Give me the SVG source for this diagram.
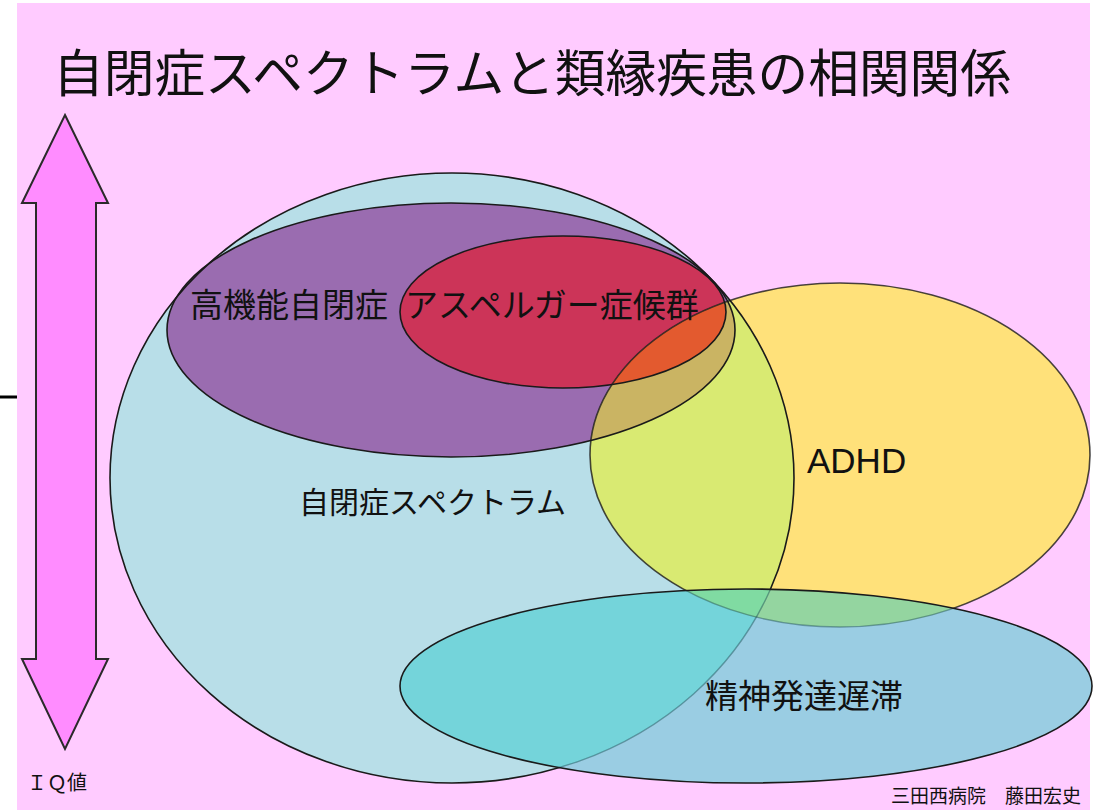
<svg xmlns="http://www.w3.org/2000/svg" width="1095" height="810" viewBox="0 0 1095 810">
<style>
text{font-family:"Noto Sans CJK JP","Noto Sans CJK SC",sans-serif;fill:#111}
.ol{fill:none;stroke:#1a1a1a;stroke-width:1.6}
.lbl{font-size:33px}
</style>
<defs>
<clipPath id="cE1"><ellipse cx="452" cy="478" rx="342" ry="305"/></clipPath>
<clipPath id="cE4"><ellipse cx="840" cy="455" rx="250" ry="172"/></clipPath>
<clipPath id="cE5"><ellipse cx="746" cy="686" rx="346" ry="97"/></clipPath>
<mask id="mOut"><rect x="0" y="0" width="1095" height="810" fill="#fff"/><ellipse cx="746" cy="686" rx="346" ry="97" fill="#000"/></mask>
</defs>
<rect x="0" y="0" width="1095" height="810" fill="#fff"/>
<rect x="17" y="3" width="1073" height="807" fill="#ffcbff"/>
<line x1="0" y1="397" x2="17" y2="397" stroke="#000" stroke-width="3"/>
<g id="iq-arrow">
<polygon points="65,115 108,203 96,203 96,659 108,659 65,749 22,659 36,659 36,203 22,203" fill="#ff8cff" stroke="#2a2a2a" stroke-width="2" stroke-linejoin="miter"/>
<text x="27" y="790" font-size="20">ＩＱ値</text>
</g>
<g id="fills">
<ellipse id="e1" cx="452" cy="478" rx="342" ry="305" fill="#b8dee8"/>
<ellipse id="e2" cx="451" cy="330" rx="284" ry="127" fill="#9a6cb0"/>
<ellipse id="e3" cx="563" cy="312" rx="163" ry="76" fill="#cc3458"/>
<ellipse id="e4" cx="840" cy="455" rx="250" ry="172" fill="#ffe17a"/>
<g clip-path="url(#cE4)">
<ellipse cx="452" cy="478" rx="342" ry="305" fill="#d9ea72"/>
<ellipse cx="451" cy="330" rx="284" ry="127" fill="#cab463"/>
<ellipse cx="563" cy="312" rx="163" ry="76" fill="#e35a2f"/>
</g>
</g>
<g id="outlines-back" mask="url(#mOut)">
<ellipse class="ol" cx="452" cy="478" rx="342" ry="305"/>
<ellipse class="ol" cx="451" cy="330" rx="284" ry="127"/>
<ellipse class="ol" cx="563" cy="312" rx="163" ry="76"/>
<ellipse class="ol" cx="840" cy="455" rx="250" ry="172" stroke-opacity="0.8"/>
</g>
<g id="e5-fills" clip-path="url(#cE5)">
<rect x="0" y="500" width="1095" height="310" fill="#9acde3"/>
<ellipse cx="452" cy="478" rx="342" ry="305" fill="#74d4da"/>
<ellipse cx="840" cy="455" rx="250" ry="172" fill="#94d5a0"/>
<g clip-path="url(#cE1)"><ellipse cx="840" cy="455" rx="250" ry="172" fill="#80dba2"/></g>
<ellipse cx="452" cy="478" rx="342" ry="305" fill="none" stroke="#1a4a50" stroke-opacity="0.45" stroke-width="1.4"/>
<ellipse cx="840" cy="455" rx="250" ry="172" fill="none" stroke="#1a4a50" stroke-opacity="0.45" stroke-width="1.4"/>
</g>
<ellipse class="ol" cx="746" cy="686" rx="346" ry="97"/>
<g id="labels">
<text class="lbl" x="190" y="317">高機能自閉症</text>
<text class="lbl" x="405" y="317">アスペルガー症候群</text>
<text x="807" y="473" font-size="35" style="font-family:'Liberation Sans',Arial,sans-serif">ADHD</text>
<text x="299" y="513" font-size="30">自閉症スペクトラム</text>
<text class="lbl" x="705" y="708">精神発達遅滞</text>
</g>
<text id="title" x="53" y="92" font-size="50.7">自閉症スペクトラムと類縁疾患の相関関係</text>
<text id="credit" x="891" y="803" font-size="19" fill="#222">三田西病院　藤田宏史</text>
</svg>
